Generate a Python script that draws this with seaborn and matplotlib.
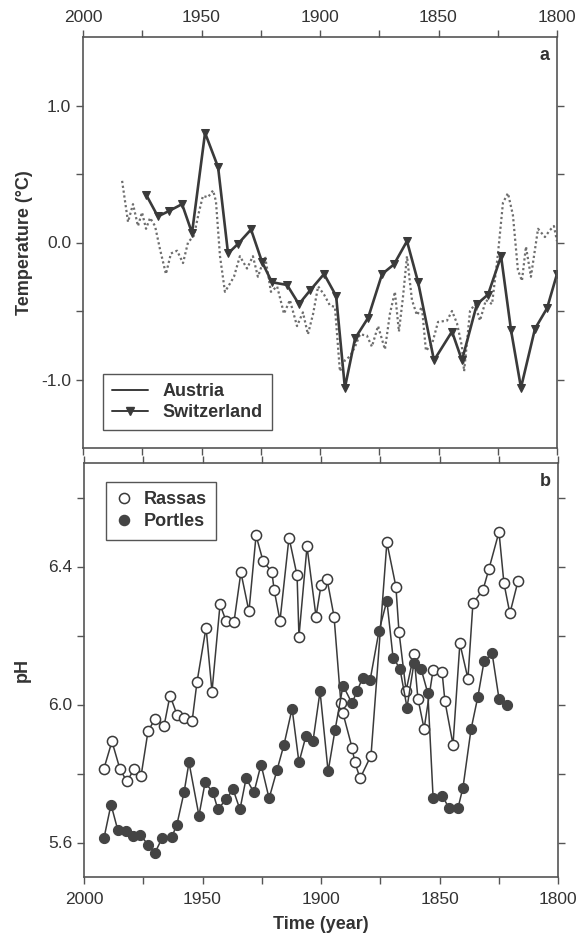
import numpy as np
import pandas as pd
import matplotlib
matplotlib.use("Agg")
import matplotlib.pyplot as plt
from matplotlib.lines import Line2D
from matplotlib.ticker import FixedLocator
import seaborn as sns

# ---------------- data ----------------
austria_year = [1983.5, 1981.0, 1978.9, 1976.8, 1975.1, 1973.4, 1971.7, 1969.6, 1967.5, 1965.0,
                1962.9, 1960.3, 1957.8, 1955.7, 1953.2, 1951.1, 1949.4, 1947.3, 1945.1, 1943.9,
                1942.2, 1940.1, 1938.0, 1936.3, 1933.8, 1930.8, 1928.3, 1926.2, 1923.2, 1920.7,
                1918.1, 1915.2, 1912.7, 1909.7, 1907.2, 1905.1, 1902.9, 1900.8, 1898.3, 1895.8,
                1893.7, 1891.6, 1889.5, 1887.3, 1885.2, 1883.1, 1880.2, 1878.1, 1875.5, 1872.6,
                1870.5, 1868.4, 1866.7, 1865.0, 1863.3, 1861.2, 1859.1, 1857.0, 1855.3, 1852.7,
                1850.2, 1846.4, 1844.3, 1842.2, 1840.1, 1839.2, 1836.7, 1834.6, 1832.5, 1830.0,
                1827.4, 1824.9, 1822.8, 1820.7, 1818.6, 1816.5, 1814.8, 1813.1, 1811.0, 1808.0,
                1805.1, 1803.0, 1801.3, 1800.0]
austria_temp = [0.45, 0.15, 0.28, 0.12, 0.22, 0.10, 0.18, 0.12, -0.05, -0.23,
                -0.08, -0.06, -0.15, 0.00, 0.05, 0.22, 0.34, 0.33, 0.38, 0.30,
                -0.10, -0.36, -0.30, -0.25, -0.10, -0.19, -0.10, -0.25, -0.10, -0.36,
                -0.32, -0.52, -0.42, -0.61, -0.51, -0.67, -0.52, -0.32, -0.38, -0.46,
                -0.47, -0.94, -0.86, -0.83, -0.76, -0.67, -0.68, -0.76, -0.61, -0.78,
                -0.52, -0.36, -0.65, -0.40, -0.10, -0.42, -0.53, -0.47, -0.79, -0.74,
                -0.58, -0.57, -0.50, -0.59, -0.76, -0.94, -0.50, -0.45, -0.57, -0.42,
                -0.45, -0.08, 0.29, 0.36, 0.20, -0.20, -0.28, -0.03, -0.25, 0.10,
                0.04, 0.09, 0.12, 0.01]

swiss_year = [1973.4, 1968.4, 1963.7, 1958.2, 1954.0, 1948.5, 1943.0, 1938.8, 1934.6, 1929.1,
              1924.5, 1920.3, 1913.9, 1908.9, 1904.2, 1898.3, 1893.2, 1889.5, 1885.2, 1879.7,
              1873.8, 1868.8, 1863.3, 1858.6, 1851.9, 1844.3, 1840.1, 1833.8, 1829.1, 1823.6,
              1819.4, 1815.2, 1809.3, 1804.2, 1800.0]
swiss_temp = [0.35, 0.19, 0.23, 0.28, 0.07, 0.80, 0.55, -0.08, -0.01, 0.095,
              -0.14, -0.29, -0.31, -0.45, -0.35, -0.23, -0.39, -1.06, -0.70, -0.55,
              -0.23, -0.16, 0.01, -0.29, -0.86, -0.65, -0.86, -0.45, -0.38, -0.10,
              -0.64, -1.06, -0.63, -0.48, -0.23]

rassas_year = [1991.6, 1988.2, 1984.8, 1981.9, 1978.9, 1975.9, 1973.0, 1970.0, 1966.2, 1963.7,
               1960.8, 1957.8, 1954.4, 1952.3, 1948.5, 1946.0, 1942.6, 1940.1, 1936.7, 1933.8,
               1930.4, 1927.4, 1924.5, 1920.7, 1919.8, 1917.3, 1913.5, 1910.1, 1909.3, 1905.9,
               1902.1, 1900.0, 1897.5, 1894.5, 1891.6, 1890.7, 1886.9, 1885.7, 1883.5, 1878.9,
               1872.2, 1868.4, 1867.1, 1864.1, 1860.8, 1859.1, 1856.5, 1852.7, 1848.9, 1847.7,
               1844.3, 1841.4, 1838.0, 1835.9, 1831.6, 1829.1, 1824.9, 1822.8, 1820.3, 1816.9]
rassas_ph = [5.814, 5.893, 5.812, 5.777, 5.812, 5.794, 5.922, 5.959, 5.939, 6.026,
             5.971, 5.962, 5.951, 6.066, 6.223, 6.037, 6.290, 6.243, 6.240, 6.383,
             6.270, 6.490, 6.417, 6.383, 6.333, 6.243, 6.484, 6.374, 6.197, 6.458,
             6.255, 6.345, 6.365, 6.255, 6.003, 5.974, 5.875, 5.832, 5.786, 5.852,
             6.470, 6.342, 6.211, 6.040, 6.145, 6.017, 5.930, 6.100, 6.093, 6.009,
             5.884, 6.177, 6.075, 6.293, 6.333, 6.394, 6.500, 6.351, 6.264, 6.357]

portles_year = [1991.6, 1988.6, 1985.7, 1982.3, 1979.3, 1976.4, 1973.0, 1970.0, 1967.1, 1962.9,
                1960.8, 1957.8, 1955.7, 1951.5, 1948.9, 1945.6, 1943.5, 1940.1, 1937.1, 1934.2,
                1931.6, 1928.3, 1925.3, 1921.9, 1918.6, 1915.6, 1912.2, 1909.3, 1906.3, 1903.4,
                1900.4, 1897.0, 1894.1, 1890.7, 1886.9, 1884.8, 1882.3, 1879.3, 1875.5, 1872.2,
                1869.6, 1866.7, 1863.7, 1860.8, 1857.8, 1854.9, 1852.7, 1848.9, 1846.0, 1842.2,
                1840.1, 1836.7, 1833.8, 1831.2, 1827.8, 1824.9, 1821.5]
portles_ph = [5.612, 5.710, 5.635, 5.632, 5.620, 5.623, 5.594, 5.571, 5.612, 5.617,
              5.652, 5.745, 5.832, 5.678, 5.774, 5.745, 5.696, 5.725, 5.754, 5.696,
              5.786, 5.745, 5.826, 5.728, 5.809, 5.884, 5.988, 5.832, 5.910, 5.893,
              6.038, 5.806, 5.925, 6.055, 6.003, 6.040, 6.078, 6.070, 6.214, 6.301,
              6.136, 6.104, 5.991, 6.119, 6.104, 6.032, 5.730, 5.736, 5.700, 5.700,
              5.759, 5.928, 6.023, 6.125, 6.148, 6.017, 6.000]

x_major = [2000, 1950, 1900, 1850, 1800]
x_minor = [1975, 1925, 1875, 1825]
temp_major = [-1.0, 0.0, 1.0]
temp_minor = [-0.5, 0.5]
ph_major = [5.6, 6.0, 6.4]
ph_minor = [5.8, 6.2, 6.6]

# ---------------- style ----------------
sns.set_style("ticks")
plt.rcParams['font.family'] = ['Liberation Sans', 'DejaVu Sans']
plt.rcParams['axes.edgecolor'] = '#555555'
plt.rcParams['axes.linewidth'] = 1.2

W, H = 584, 939
fig = plt.figure(figsize=(W / 100, H / 100), dpi=100)
ax1 = fig.add_axes([83 / W, 1 - 448 / H, 474 / W, 411 / H])
ax2 = fig.add_axes([84 / W, 1 - 877 / H, 474 / W, 414 / H])

dark = '#3a3a3a'
gray = '#6e6e6e'
ms_circ = 7.3

df_a = pd.DataFrame({'year': austria_year, 'temp': austria_temp})
df_s = pd.DataFrame({'year': swiss_year, 'temp': swiss_temp})
df_r = pd.DataFrame({'year': rassas_year, 'ph': rassas_ph})
df_p = pd.DataFrame({'year': portles_year, 'ph': portles_ph})

sns.lineplot(data=df_a, x='year', y='temp', ax=ax1, color=gray, lw=1.6,
             linestyle=(0, (1, 1.2)), sort=False)
sns.lineplot(data=df_s, x='year', y='temp', ax=ax1, color=dark, lw=1.9,
             marker='v', markersize=5.2, markeredgecolor=dark, markerfacecolor=dark, sort=False)

sns.lineplot(data=df_r, x='year', y='ph', ax=ax2, color=dark, lw=1.1, sort=False,
             marker='o', markersize=ms_circ, markerfacecolor='white', markeredgecolor=dark,
             markeredgewidth=1.1)
sns.lineplot(data=df_p, x='year', y='ph', ax=ax2, color=dark, lw=1.1, sort=False,
             marker='o', markersize=ms_circ, markerfacecolor='#444444', markeredgecolor='#444444')

for ax in (ax1, ax2):
    ax.set_xlim(2000, 1800)
    ax.xaxis.set_major_locator(FixedLocator(x_major))
    ax.xaxis.set_minor_locator(FixedLocator(x_minor))
    ax.tick_params(which='both', direction='out', length=5, width=1.0, color='#555555',
                   top=True, bottom=True, left=True, right=True, labelsize=12.5,
                   labelcolor='#333333')
    ax.set_xlabel('')
    ax.set_ylabel('')
    for s in ax.spines.values():
        s.set_visible(True)

ax1.set_ylim(-1.5, 1.5)
ax1.yaxis.set_major_locator(FixedLocator(temp_major))
ax1.yaxis.set_minor_locator(FixedLocator(temp_minor))
ax1.set_yticklabels(['-1.0', '0.0', '1.0'])
ax1.tick_params(axis='x', labeltop=True, labelbottom=False)

ax2.set_ylim(5.5, 6.7)
ax2.yaxis.set_major_locator(FixedLocator(ph_major))
ax2.yaxis.set_minor_locator(FixedLocator(ph_minor))
ax2.set_yticklabels(['5.6', '6.0', '6.4'])
ax2.tick_params(axis='x', labeltop=False, labelbottom=True, pad=6)

ax1.set_ylabel('Temperature (°C)', fontsize=13, fontweight='bold', color='#333333', labelpad=6)
ax2.set_ylabel('pH', fontsize=13, fontweight='bold', color='#333333', labelpad=12)
ax2.set_xlabel('Time (year)', fontsize=13, fontweight='bold', color='#333333', labelpad=6)

ax1.text(0.985, 0.975, 'a', transform=ax1.transAxes, ha='right', va='top',
         fontsize=13, fontweight='bold', color='#333333')
ax2.text(0.985, 0.975, 'b', transform=ax2.transAxes, ha='right', va='top',
         fontsize=13, fontweight='bold', color='#333333')

h1 = [Line2D([], [], color=dark, lw=1.4),
      Line2D([], [], color=dark, lw=1.4, marker='v', markersize=5.2)]
leg1 = ax1.legend(h1, ['Austria', 'Switzerland'], loc='lower left',
                  bbox_to_anchor=(0.042, 0.044), frameon=True, fancybox=False,
                  edgecolor='#555555', framealpha=1, borderaxespad=0,
                  prop={'weight': 'bold', 'size': 13}, handlelength=2.0,
                  labelspacing=0.2, borderpad=0.5)
leg1.get_frame().set_linewidth(1.0)
for t in leg1.get_texts():
    t.set_color('#333333')

h2 = [Line2D([], [], ls='none', marker='o', markersize=ms_circ, markerfacecolor='white',
             markeredgecolor=dark, markeredgewidth=1.1),
      Line2D([], [], ls='none', marker='o', markersize=ms_circ, markerfacecolor='#444444',
             markeredgecolor='#444444')]
leg2 = ax2.legend(h2, ['Rassas', 'Portles'], loc='upper left',
                  bbox_to_anchor=(0.046, 0.954), frameon=True, fancybox=False,
                  edgecolor='#555555', framealpha=1, borderaxespad=0,
                  prop={'weight': 'bold', 'size': 13}, handlelength=1.0,
                  handletextpad=0.6, labelspacing=0.3, borderpad=0.5)
leg2.get_frame().set_linewidth(1.0)
for t in leg2.get_texts():
    t.set_color('#333333')

fig.savefig('out.png', dpi=100)
